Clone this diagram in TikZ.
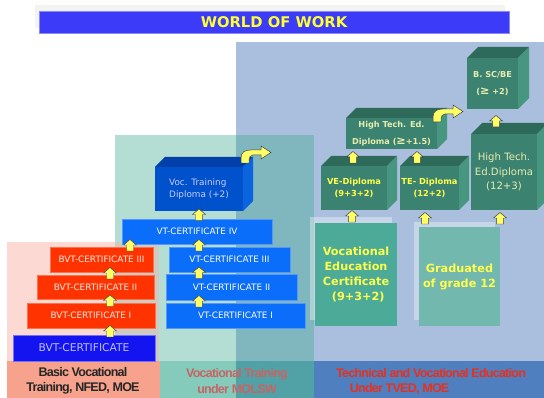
\documentclass[tikz,border=0pt]{standalone}
\usepackage{fontspec}
\setmainfont{DejaVu Sans}
\newfontfamily\bandfont[LetterSpace=-6]{Liberation Sans}
\usetikzlibrary{calc}

\definecolor{regionblue}{HTML}{A9BFDD}
\definecolor{regionteal}{HTML}{B4DDD4}
\definecolor{regiontealblue}{HTML}{80B7BE}
\definecolor{regionpink}{HTML}{FCDAD3}
\definecolor{regionpinkteal}{HTML}{CDCCC2}
\definecolor{bandsalmon}{HTML}{F7A28C}
\definecolor{bandteal}{HTML}{85CBBB}
\definecolor{bandtealdark}{HTML}{50A2A6}
\definecolor{bandblue}{HTML}{4F7FBE}
\definecolor{titlegray}{HTML}{F3F3EF}
\definecolor{titleblue}{HTML}{3B3BF8}
\definecolor{titleyellow}{HTML}{FFFF33}
\definecolor{bvtred}{HTML}{FF3300}
\definecolor{bvtblue}{HTML}{1414F0}
\definecolor{vtblue}{HTML}{0A6EFA}
\definecolor{vdfront}{HTML}{0052CC}
\definecolor{vdtop}{HTML}{0040A8}
\definecolor{vdside}{HTML}{0A64E0}
\definecolor{gfront}{HTML}{3C8270}
\definecolor{gtop}{HTML}{2D6A5A}
\definecolor{gside}{HTML}{469680}
\definecolor{vecgreen}{HTML}{4BAA98}
\definecolor{gradgreen}{HTML}{72B8AE}
\definecolor{arrowyellow}{HTML}{FFFF66}
\definecolor{arrowedge}{HTML}{404040}
\definecolor{labelyellow}{HTML}{FFFF4D}
\definecolor{paleyellow}{HTML}{E6EDB0}
\definecolor{molswred}{HTML}{C86464}
\definecolor{tvedred}{HTML}{E8301E}

% top and right faces of a box drawn behind a front node
\newcommand{\cubefaces}[4]{%
  \fill[#3] (#1.north west) -- ++(#2,-#2) -- ($(#1.north east)+(#2,-#2)$) -- (#1.north east) -- cycle;
  \fill[#4] (#1.north east) -- ($(#1.north east)+(#2,-#2)$) -- ($(#1.south east)+(#2,-#2)$) -- (#1.south east) -- cycle;}
% up arrow at x (px) between lower node and upper node
\newcommand{\liftarrow}[3]{%
  \path let \p1=(#2.north), \p2=(#3.south), \p3=(#1,0) in (\x3,{(\y1+\y2)/2}) pic {yarrow};}

\tikzset{
yarrow/.pic={\filldraw[fill=arrowyellow,draw=arrowedge,line width=0.35pt]
  (-3.5,5.5) -- (-3.5,-0.5) -- (-6.5,-0.5) -- (0,-6) -- (6.5,-0.5) -- (3.5,-0.5) -- (3.5,5.5) -- cycle;},
turnarrow/.pic={\filldraw[fill=arrowyellow,draw=arrowedge,line width=0.35pt]
  (0,0) -- (0,-5) .. controls (0,-11) and (4,-13) .. (10,-13) -- (20,-13) -- (20,-17) -- (30,-10.5)
  -- (20,-4) -- (20,-8) -- (12,-8) .. controls (9.5,-8) and (8,-6) .. (8,-3) -- (8,0) -- cycle;}
}

\begin{document}
\begin{tikzpicture}[x=0.025cm,y=-0.025cm,inner sep=0pt,outer sep=0pt,
wd/.style={minimum width=#1*0.025cm},
ht/.style={minimum height=#1*0.025cm},
certbox/.style={rectangle,ht=25,font=\fontsize{6.3}{7}\selectfont},
redbox/.style={certbox,fill=bvtred,draw=bvtred!70!white,line width=0.5pt,text=white!90!bvtred},
vtbox/.style={certbox,fill=vtblue,draw=vtblue!70!white,line width=0.5pt,text=white},
cubebox/.style={rectangle,fill=gfront,align=center,text=labelyellow,font=\bfseries\fontsize{5.9}{8}\selectfont},
bandlabel/.style={align=center,font=\bandfont\bfseries\fontsize{8.9}{10.8}\selectfont}]

\useasboundingbox[fill=white] (0,0) rectangle (544,398);

% regions
\fill[regionblue] (236,42) rectangle (544,361);
\fill[regionteal] (115,135) rectangle (314,361);
\fill[regiontealblue] (236,135) rectangle (314,361);
\fill[regionpink] (7,242) rectangle (159,361);
\fill[regionpinkteal] (115,242) rectangle (159,361);

% bands
\fill[bandsalmon] (7,361) rectangle (160,398);
\fill[bandteal] (160,361) rectangle (236,398);
\fill[bandtealdark] (236,361) rectangle (314,398);
\fill[bandblue] (314,361) rectangle (544,398);

\draw (83,381) node[bandlabel,text=black!85] (lblBVT) {Basic Vocational\\Training, NFED, MOE};
\draw (237,381) node[bandlabel,text=molswred] (lblVT) {Vocational Training\\under MOLSW};
\draw (431,381.5) node[bandlabel,text=tvedred,align=left] (lblTVED) {Technical and Vocational Education\\\hspace*{1.1em}Under TVED, MOE};

% title
\fill[titlegray] (35,5) rectangle (505,28);
\draw (274,22) node[fill=titleblue,draw=titleblue!60!white,line width=0.4pt,wd=470,ht=22,
  text=titleyellow,font=\bfseries\fontsize{10.5}{12}\selectfont] (title) {WORLD OF WORK};

% basic vocational training
\draw (84,348) node[certbox,wd=142,ht=26,fill=bvtblue,draw=bvtblue!60!white,line width=0.5pt,
  text=blue!25!white,font=\fontsize{7.6}{9}\selectfont] (bvt) {BVT-CERTIFICATE};
\draw (91,315.5) node[redbox,wd=128] (bvtI) {BVT-CERTIFICATE I};
\draw (95.5,287) node[redbox,wd=117,ht=24] (bvtII) {BVT-CERTIFICATE II};
\draw (101.5,259.5) node[redbox,wd=103] (bvtIII) {BVT-CERTIFICATE III};

% vocational training
\draw (235.5,315.5) node[vtbox,wd=139] (vtI) {VT-CERTIFICATE I};
\draw (231.5,287) node[vtbox,wd=131,ht=26] (vtII) {VT-CERTIFICATE II};
\draw (229.5,259.5) node[vtbox,wd=121] (vtIII) {VT-CERTIFICATE III};
\draw (197,231.5) node[vtbox,wd=150] (vtIV) {VT-CERTIFICATE IV};
\draw (199,189) node[rectangle,fill=vdfront,wd=88,ht=44,align=left,text=blue!20!white,
  font=\fontsize{6.3}{8.3}\selectfont] (vtd) {Voc. Training\\Diploma (+2)};
\cubefaces{vtd}{10}{vdtop}{vdside}

% technical and vocational education
\fill[white,opacity=0.35] (310,217) rectangle (392,320);
\fill[white,opacity=0.35] (414,222) rectangle (495,320);
\draw (356,274.5) node[rectangle,fill=vecgreen,wd=82,ht=103,align=center,text=labelyellow,
  font=\bfseries\fontsize{8}{10.7}\selectfont] (vec) {Vocational\\Education\\Certificate\\\hspace*{0.4em}(9+3+2)};
\draw (459.5,276.5) node[rectangle,fill=gradgreen,wd=81,ht=99,align=center,text=labelyellow,
  font=\bfseries\fontsize{8}{10.7}\selectfont] (grad) {Graduated\\of grade 12};

\draw (354,188) node[cubebox,wd=66,ht=44] (ved) {VE-Diploma\\(9+3+2)};
\cubefaces{ved}{10}{gtop}{gside}
\draw (429.5,188) node[cubebox,wd=59,ht=44] (ted) {TE- Diploma\\(12+2)};
\cubefaces{ted}{10}{gtop}{gside}
\draw (504,172) node[cubebox,wd=66,ht=76,text=paleyellow,font=\fontsize{7.2}{10.4}\selectfont] (hted2)
  {High Tech.\\Ed.Diploma\\(12+3)};
\cubefaces{hted2}{11}{gtop}{gside}
\draw (391.5,133.5) node[cubebox,wd=91,ht=31,text=paleyellow,font=\bfseries\fontsize{5.8}{12}\selectfont] (hted)
  {High Tech. Ed.\\Diploma ({\fontsize{8}{8}\selectfont ≥}+1.5)};
\cubefaces{hted}{10}{gtop}{gside}
\draw (492.5,83.5) node[cubebox,wd=51,ht=51,text=paleyellow,font=\bfseries\fontsize{5.8}{12}\selectfont] (bsc)
  {B. SC/BE\\({\fontsize{8}{8}\selectfont ≥} +2)};
\cubefaces{bsc}{11}{gtop}{gside}

% arrows
\liftarrow{110}{bvt}{bvtI}
\liftarrow{110}{bvtI}{bvtII}
\liftarrow{110}{bvtII}{bvtIII}
\liftarrow{130}{bvtIII}{vtIV}
\liftarrow{199}{vtI}{vtII}
\liftarrow{199}{vtII}{vtIII}
\liftarrow{199}{vtIII}{vtIV}
\liftarrow{199}{vtIV}{vtd}
\liftarrow{352}{vec}{ved}
\liftarrow{425}{grad}{ted}
\liftarrow{500}{grad}{hted2}
\liftarrow{353}{ved}{hted}
\liftarrow{417}{ted}{hted}
\liftarrow{496}{hted2}{bsc}
\pic at ($(vtd.north east)+(-2,-4)$) {turnarrow};
\pic at ($(hted.north east)+(-4,4)$) {turnarrow};
\end{tikzpicture}
\end{document}
